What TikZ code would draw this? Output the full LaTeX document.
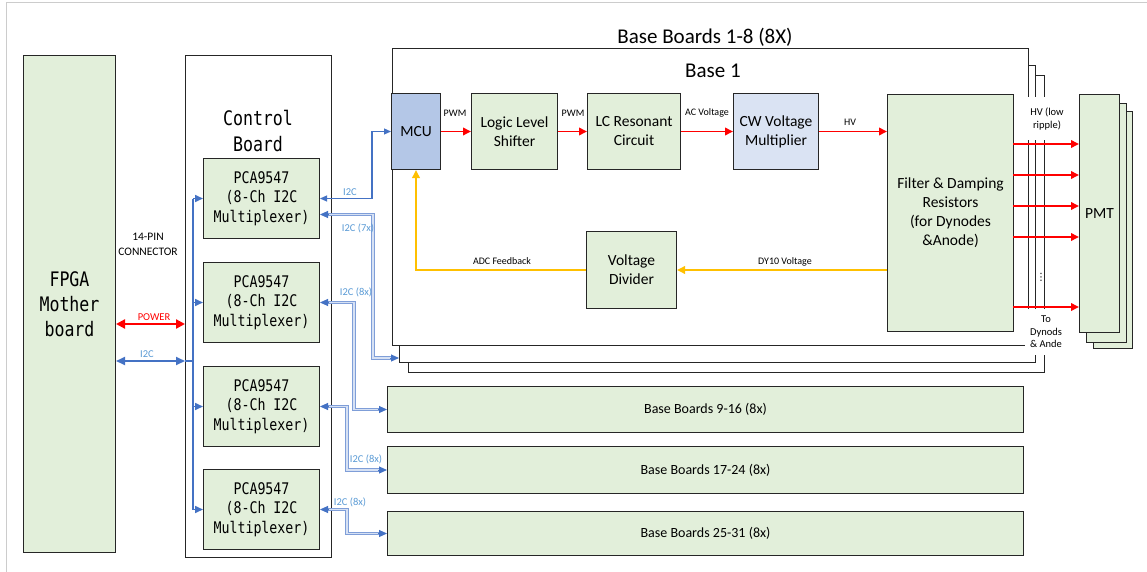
\documentclass[tikz,border=0pt]{standalone}
\usepackage{fontspec}
\setmainfont{Carlito}
\newfontfamily\hei[FakeStretch=0.83]{DejaVu Sans Mono}
\newfontfamily\dvs{DejaVu Sans}
\usetikzlibrary{arrows.meta,calc}
\definecolor{gfill}{HTML}{E2EFDA}
\definecolor{mcufill}{HTML}{B4C7E7}
\definecolor{cwfill}{HTML}{DAE3F3}
\definecolor{bl}{HTML}{4472C4}
\definecolor{lblue}{HTML}{5B9BD5}
\definecolor{dblc}{HTML}{7F9ED8}
\definecolor{dblin}{HTML}{D6E1F4}
\definecolor{yel}{HTML}{FFC000}
\definecolor{rd}{HTML}{FF0000}
\definecolor{edge}{HTML}{262626}
\begin{document}
\begin{tikzpicture}[x=1pt,y=-1pt,
  box/.style={draw=edge, line width=1pt, inner sep=0pt, anchor=north west, align=center},
  gbox/.style={box, fill=gfill},
  frame/.style={draw=edge, line width=1pt, fill=white, inner sep=0pt, anchor=north west},
  mid/.style={font=\fontsize{15.5}{19}\selectfont},
  pca/.style={gbox, minimum width=116pt, minimum height=80pt, font=\hei\fontsize{16}{19.5}\selectfont},
  lbl/.style={font=\fontsize{10.5}{12.5}\selectfont, inner sep=1pt, align=center},
  blbl/.style={lbl, text=lblue},
  redarr/.style={draw=rd, line width=1.8pt, -{Triangle[length=8pt,width=7.5pt]}},
  yelarr/.style={draw=yel, line width=1.8pt, -{Triangle[length=8pt,width=7.5pt]}},
  busl/.style={draw=bl, line width=1.6pt},
  busarr/.style={busl, -{Triangle[length=8pt,width=7pt]}},
  dbl/.style={draw=dblc, double=dblin, double distance=1.6pt, line width=1pt},
  btip/.style={draw=bl, line width=1pt, -{Triangle[length=8pt,width=7pt]}}
]
\useasboundingbox (0,0) rectangle (1147,572);
\draw[black!20, line width=1pt] (6,572) -- (6,3) -- (1147,3);

% FPGA and control board
\node[gbox, minimum width=92pt, minimum height=497pt, font=\hei\fontsize{20}{25}\selectfont] (fpga) at (23,55) {FPGA\\Mother\\board};
\node[box, fill=white, minimum width=146pt, minimum height=502pt] (ctrl) at (185,55) {};
\node[font=\hei\fontsize{20}{26}\selectfont, align=center] (ctitle) at (258,131) {Control\\Board};
\node[pca] (pca1) at (203,158) {PCA9547\\(8-Ch I2C\\Multiplexer)};
\node[pca] (pca2) at (203,262) {PCA9547\\(8-Ch I2C\\Multiplexer)};
\node[pca] (pca3) at (203,366) {PCA9547\\(8-Ch I2C\\Multiplexer)};
\node[pca] (pca4) at (203,469) {PCA9547\\(8-Ch I2C\\Multiplexer)};

% base board stack
\node[frame, minimum width=636pt, minimum height=297pt] (frame3) at (408,75) {};
\node[frame, minimum width=636pt, minimum height=297pt] (frame2) at (399,65) {};
\node[frame, minimum width=636pt, minimum height=297pt] (frame1) at (392,48) {};
\node[font=\fontsize{21}{24}\selectfont] (ttl) at (705,37) {Base Boards 1-8 (8X)};
\node[font=\fontsize{21}{24}\selectfont] (base1) at (713,71) {Base 1};

\node[box, fill=mcufill, minimum width=49pt, minimum height=76pt, mid] (mcu) at (391,93) {MCU};
\node[gbox, minimum width=86pt, minimum height=76pt, mid] (lls) at (471,93) {Logic Level\\Shifter};
\node[gbox, minimum width=93pt, minimum height=76pt, mid] (lc) at (587,93) {LC Resonant\\Circuit};
\node[box, fill=cwfill, minimum width=85pt, minimum height=76pt, mid] (cw) at (733,93) {CW Voltage\\Multiplier};
\node[gbox, minimum width=126pt, minimum height=237pt, mid] (filt) at (887,94) {Filter \& Damping\\Resistors\\(for Dynodes\\\&Anode)};
\node[gbox, minimum width=90pt, minimum height=77pt, mid] (vd) at (586,231) {Voltage\\Divider};

% PMT stack
\node[gbox, minimum width=39pt, minimum height=237pt] (pmt3) at (1093,111) {};
\node[gbox, minimum width=40pt, minimum height=239pt] (pmt2) at (1086,103) {};
\node[gbox, minimum width=40pt, minimum height=238pt, mid] (pmt1) at (1079,94) {PMT};

% labels covering frame edges
\node[lbl, fill=white, minimum width=42pt, minimum height=43pt] (hvl) at (1047,119) {HV (low\\ripple)};
\node[lbl, fill=white, minimum width=42pt, minimum height=46pt] (tod) at (1046,332) {To\\Dynods\\\& Ande};
\node[inner sep=0pt, font=\dvs\fontsize{10}{10}\selectfont] (dots) at (1041,277) {⋮};

% other base boards
\node[gbox, minimum width=636pt, minimum height=46pt, font=\fontsize{14}{16}\selectfont] (bb1) at (387,386) {Base Boards 9-16 (8x)};
\node[gbox, minimum width=636pt, minimum height=47pt, font=\fontsize{14}{16}\selectfont] (bb2) at (387,446) {Base Boards 17-24 (8x)};
\node[gbox, minimum width=636pt, minimum height=44pt, font=\fontsize{14}{16}\selectfont] (bb3) at (387,511) {Base Boards 25-31 (8x)};

% red signal chain
\draw[redarr] (mcu.east) -- (lls.west);
\draw[redarr] (lls.east) -- (lc.west);
\draw[redarr] (lc.east) -- (cw.west);
\draw[redarr] (cw.east) -- (cw.east -| filt.west);
\node[lbl, font=\fontsize{10}{12}\selectfont] at (455,113) {PWM};
\node[lbl, font=\fontsize{10}{12}\selectfont] at (573,113) {PWM};
\node[lbl, font=\fontsize{10}{12}\selectfont] at (707,113) {AC Voltage};
\node[lbl, font=\fontsize{10}{12}\selectfont] at (850,122) {HV};

% feedback
\draw[yelarr] (filt.west |- vd.east) -- (vd.east);
\draw[yelarr] (vd.west) -| (mcu.south);
\node[lbl, font=\fontsize{10}{12}\selectfont] at (502,261) {ADC Feedback};
\node[lbl, font=\fontsize{10}{12}\selectfont] at (785,262) {DY10 Voltage};

% HV outputs to PMT
\foreach \yy in {144,175,206,237,307} {
  \coordinate (o) at (1013,\yy);
  \draw[redarr] (o) -- (o -| pmt1.west);
}

% FPGA to control board
\coordinate (bus) at (193,361);
\coordinate (pw) at (150,324);
\draw[draw=rd, line width=2.2pt, {Triangle[length=9pt,width=9pt]}-{Triangle[length=9pt,width=9pt]}] (fpga.east |- pw) -- (ctrl.west |- pw);
\draw[draw=bl, line width=2pt, {Triangle[length=9pt,width=8pt]}-{Triangle[length=9pt,width=8pt]}] (fpga.east |- bus) -- (ctrl.west |- bus);
\draw[draw=bl, line width=2pt] (ctrl.west |- bus) -- (bus);
\node[lbl, text=rd] at (154,317) {POWER};
\node[blbl] at (147,354) {I2C};
\node[lbl, font=\fontsize{11.5}{15}\selectfont] at (148,244) {14-PIN\\CONNECTOR};

% bus
\draw[busl] (pca1.west -| bus) -- (pca4.west -| bus);
\foreach \p in {pca1,pca2,pca3,pca4} { \draw[busarr] (\p.west -| bus) -- (\p.west); }

% I2C to MCU
\draw[draw=bl, line width=1.1pt, {Triangle[length=7pt,width=6pt]}-{Triangle[length=7pt,width=6pt]}] (pca1.east) -| ($(mcu.west)+(-19,0)$) -- (mcu.west);
\node[blbl] at (350,192) {I2C};

% double I2C buses
\draw[dbl] ($(pca1.east)+(7,16)$) -| ($(frame2.south west)+(-26,-5)$) -- ($(frame2.south west)+(-7,-5)$);
\draw[btip] ($(pca1.east)+(8,16)$) -- ($(pca1.east)+(0,16)$);
\draw[btip] ($(frame2.south west)+(-9,-5)$) -- ($(frame2.south west)+(0,-5)$);
\node[blbl] at (358,228) {I2C (7x)};

\draw[dbl] ($(pca2.east)+(7,0)$) -| ($(bb1.west)+(-33,0)$) -- ($(bb1.west)+(-7,0)$);
\draw[btip] ($(pca2.east)+(8,0)$) -- (pca2.east);
\draw[btip] ($(bb1.west)+(-9,0)$) -- (bb1.west);
\node[blbl] at (356,292) {I2C (8x)};

\draw[dbl] ($(pca3.east)+(7,0)$) -| ($(bb2.west)+(-40,0)$) -- ($(bb2.west)+(-7,0)$);
\draw[btip] ($(pca3.east)+(8,0)$) -- (pca3.east);
\draw[btip] ($(bb2.west)+(-9,0)$) -- (bb2.west);
\node[blbl] at (366,459) {I2C (8x)};

\draw[dbl] ($(pca4.east)+(7,0)$) -| ($(bb3.west)+(-40,0)$) -- ($(bb3.west)+(-7,0)$);
\draw[btip] ($(pca4.east)+(8,0)$) -- (pca4.east);
\draw[btip] ($(bb3.west)+(-9,0)$) -- (bb3.west);
\node[blbl] at (350,502) {I2C (8x)};
\end{tikzpicture}
\end{document}
